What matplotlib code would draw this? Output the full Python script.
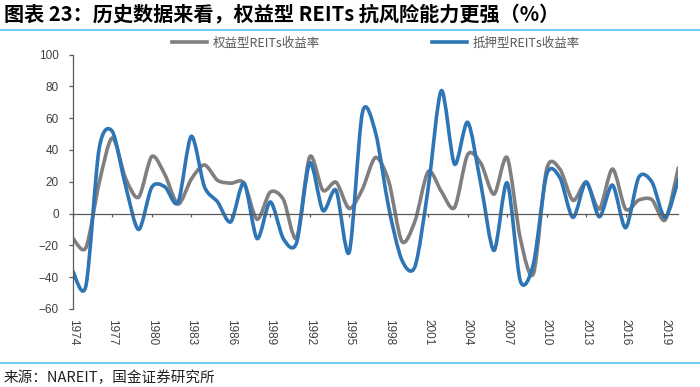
import numpy as np
import matplotlib
matplotlib.use('Agg')
import matplotlib.pyplot as plt
from matplotlib.path import Path
from matplotlib.patches import PathPatch
from matplotlib.lines import Line2D

# annual total returns (%)
years = list(range(1974, 2021))
equity = [-15.5, -21.4, 19.3, 47.6, 22.4, 10.3, 35.9, 24.4, 6.0, 21.6,
          30.6, 20.9, 19.1, 19.2, -3.6, 13.5, 8.8, -15.4, 35.7, 14.6,
          19.7, 3.2, 15.3, 35.3, 20.3, -17.5, -4.6, 26.4, 13.9, 3.8,
          37.1, 31.6, 12.2, 35.1, -15.7, -37.7, 28.0, 28.0, 8.3, 19.7,
          2.9, 28.0, 2.8, 8.5, 8.7, -4.0, 28.7]
mortgage = [-36.3, -45.3, 40.8, 51.7, 17.8, -10.0, 16.6, 16.8, 7.1, 48.6,
            16.9, 7.3, -5.2, 19.2, -15.7, 7.3, -15.9, -18.4, 31.8, 1.9,
            14.6, -24.3, 63.4, 50.9, 3.8, -29.2, -33.2, 16.0, 77.3, 31.1,
            57.4, 18.4, -23.2, 19.3, -42.4, -31.3, 24.6, 22.6, -2.4, 19.9,
            -2.0, 17.9, -8.9, 22.9, 19.8, -2.5, 21.3]
tick_years = list(range(1974, 2020, 3))
yticks = list(range(-60, 101, 20))

names = ['权益型REITs收益率', '抵押型REITs收益率']
colors = ['#7f7f7f', '#2e75b6']

CJK = ['Noto Sans CJK SC', 'DejaVu Sans']
LAT = ['Liberation Sans', 'Noto Sans CJK SC']
plt.rcParams['font.family'] = LAT


def smooth_path(x, y, k=7.0):
    # excel-style smoothed line: cubic bezier through every point
    p = np.column_stack([x, y]).astype(float)
    n = len(p)
    verts = [p[0]]
    codes = [Path.MOVETO]
    for i in range(n - 1):
        p0 = p[max(i - 1, 0)]
        p3 = p[min(i + 2, n - 1)]
        c1 = p[i] + (p[i + 1] - p0) / k
        c2 = p[i + 1] - (p3 - p[i]) / k
        verts += [c1, c2, p[i + 1]]
        codes += [Path.CURVE4] * 3
    return Path(verts, codes)


fig = plt.figure(figsize=(7, 3.87), dpi=100)
ax = fig.add_axes([0.104, 0.2016, 0.865, 0.6574])

for vals, c in zip([equity, mortgage], colors):
    ax.add_patch(PathPatch(smooth_path(years, vals), facecolor='none',
                           edgecolor=c, lw=2.6, capstyle='round',
                           joinstyle='round'))

ax.set_xlim(1974, 2020)
ax.set_ylim(-60, 100)
ax.set_yticks(yticks)
ax.set_xticks(tick_years)

for s in ['top', 'right']:
    ax.spines[s].set_visible(False)
ax.spines['left'].set_color('#595959')
ax.spines['left'].set_linewidth(0.9)
ax.spines['bottom'].set_position(('data', 0))
ax.spines['bottom'].set_color('#595959')
ax.spines['bottom'].set_linewidth(0.9)
ax.tick_params(axis='y', direction='out', length=3, width=0.9,
               color='#595959', labelsize=8.5, labelcolor='#404040', pad=7)
ax.tick_params(axis='x', direction='out', length=2.5, width=0.9,
               color='#595959', labelbottom=False)

sec = ax.secondary_xaxis('bottom')
sec.set_xticks(tick_years)
sec.set_xticklabels([str(t) for t in tick_years], rotation=-90,
                    fontsize=8.5, color='#404040')
sec.tick_params(length=0, pad=7)
sec.spines['bottom'].set_visible(False)

handles = [Line2D([], [], color=c, lw=2.6) for c in colors]
fig.legend(handles, names, loc='center', bbox_to_anchor=(0.537, 0.889),
           ncol=2, frameon=False, handlelength=2.8, handletextpad=0.4,
           columnspacing=9.0, prop={'family': CJK, 'size': 9},
           labelcolor='#595959')

fig.text(0.005, 0.964, '图表 23：历史数据来看，权益型 REITs 抗风险能力更强（%）',
         family=CJK, fontsize=14.5, weight='bold', style='italic',
         va='center', ha='left', color='black')
fig.add_artist(Line2D([0, 1], [0.922, 0.922], transform=fig.transFigure,
                      color='#56c1ee', lw=1.2))
fig.add_artist(Line2D([0, 1], [0.063, 0.063], transform=fig.transFigure,
                      color='#56c1ee', lw=1.2))
fig.text(0.005, 0.024, '来源：NAREIT，国金证券研究所', family=CJK,
         fontsize=10.5, va='center', ha='left', color='#222222')

fig.savefig('out.png', dpi=100)
